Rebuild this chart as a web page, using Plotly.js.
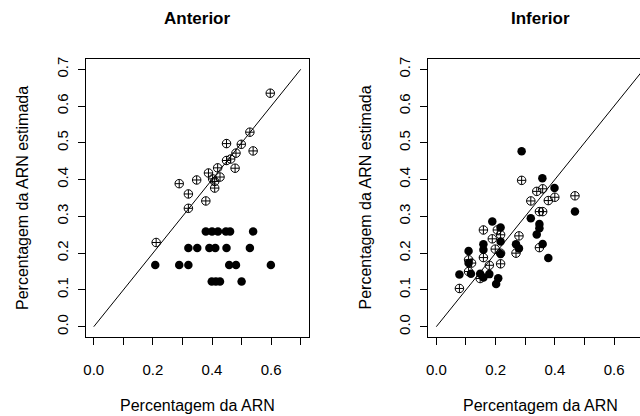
<!DOCTYPE html>
<html>
<head>
<meta charset="utf-8">
<script src="https://cdn.plot.ly/plotly-3.0.1.min.js"></script>
<style>
  html, body { margin: 0; padding: 0; overflow: hidden; background: #fff; }
  #chart { width: 660px; height: 416px; }
</style>
</head>
<body>
<div id="chart"></div>
<script>
// Anterior: open (circle-plus) estimates
const antOpenX = [0.597, 0.528, 0.449, 0.499, 0.539, 0.481, 0.463, 0.449, 0.478, 0.419, 0.388,
                  0.427, 0.402, 0.409, 0.409, 0.348, 0.289, 0.320, 0.379, 0.320, 0.211];
const antOpenY = [0.635, 0.529, 0.498, 0.496, 0.478, 0.472, 0.456, 0.452, 0.431, 0.432, 0.418,
                  0.407, 0.402, 0.395, 0.377, 0.399, 0.389, 0.361, 0.342, 0.322, 0.229];
// Anterior: filled estimates
const antFilledX = [0.379, 0.400, 0.420, 0.447, 0.461, 0.539,
                    0.320, 0.350, 0.391, 0.411, 0.449, 0.528,
                    0.208, 0.289, 0.320, 0.458, 0.481, 0.599,
                    0.399, 0.413, 0.427, 0.500];
const antFilledY = [0.259, 0.259, 0.259, 0.259, 0.259, 0.259,
                    0.214, 0.214, 0.214, 0.214, 0.214, 0.214,
                    0.168, 0.168, 0.168, 0.168, 0.168, 0.168,
                    0.123, 0.123, 0.123, 0.123];

// Inferior: open (circle-plus) estimates
const infOpenX = [0.288, 0.359, 0.339, 0.400, 0.378, 0.319, 0.468, 0.348, 0.359, 0.159, 0.206, 0.217, 0.189,
                  0.279, 0.199, 0.217, 0.217, 0.159, 0.179, 0.269, 0.348, 0.109, 0.119, 0.109, 0.148, 0.078];
const infOpenY = [0.398, 0.375, 0.368, 0.352, 0.343, 0.342, 0.356, 0.313, 0.313, 0.263, 0.263, 0.250, 0.239,
                  0.247, 0.211, 0.200, 0.171, 0.188, 0.167, 0.200, 0.215, 0.182, 0.173, 0.150, 0.131, 0.104];
// Inferior: filled estimates
const infFilledX = [0.288, 0.358, 0.399, 0.468, 0.319, 0.348, 0.348, 0.339, 0.359, 0.378, 0.189, 0.217, 0.217, 0.159,
                    0.159, 0.109, 0.109, 0.269, 0.279, 0.217, 0.078, 0.117, 0.148, 0.159, 0.179, 0.209, 0.202];
const infFilledY = [0.477, 0.404, 0.377, 0.313, 0.295, 0.279, 0.268, 0.251, 0.225, 0.187, 0.286, 0.270, 0.232, 0.224,
                    0.209, 0.206, 0.173, 0.224, 0.213, 0.198, 0.142, 0.144, 0.144, 0.134, 0.143, 0.132, 0.116];

// Identity reference line and axis ticks
const refLine = [0, 0.7];
const tickVals = [0, 0.1, 0.2, 0.3, 0.4, 0.5, 0.6, 0.7];
const xTickText = ['0.0', '', '0.2', '', '0.4', '', '0.6', ''];
const yTickText = ['0.0', '0.1', '0.2', '0.3', '0.4', '0.5', '0.6', '0.7'];

const panelTitles = ['Anterior', 'Inferior'];
const xTitle = 'Percentagem da ARN';
const yTitle = 'Percentagem da ARN estimada';

const W = 660, H = 416;
const FONT = 'Liberation Sans, Arial, Helvetica, sans-serif';
const MS = 8.5;

function pointsTrace(x, y, filled, axis) {
  return {
    type: 'scatter', mode: 'markers', x: x, y: y,
    xaxis: 'x' + axis, yaxis: 'y' + axis,
    marker: filled
      ? { symbol: 'circle', size: MS, color: '#000', line: { width: 0 } }
      : { symbol: 'circle-cross-open', size: MS, color: '#000', line: { width: 1, color: '#000' } },
    hoverinfo: 'x+y', showlegend: false
  };
}
function lineTrace(axis) {
  return {
    type: 'scatter', mode: 'lines', x: refLine, y: refLine,
    xaxis: 'x' + axis, yaxis: 'y' + axis,
    line: { color: '#000', width: 1 }, hoverinfo: 'skip', showlegend: false
  };
}

const traces = [
  lineTrace(''), pointsTrace(antFilledX, antFilledY, true, ''), pointsTrace(antOpenX, antOpenY, false, ''),
  lineTrace('2'), pointsTrace(infFilledX, infFilledY, true, '2'), pointsTrace(infOpenX, infOpenY, false, '2')
];

const yDom = [(H - 337) / H, (H - 59) / H];
const rng = [-0.028, 0.728];

function xAxis(left, right, anchor) {
  return {
    domain: [left / W, right / W], range: rng, anchor: anchor,
    tickmode: 'array', tickvals: tickVals, ticktext: xTickText,
    ticks: 'outside', ticklen: 7, tickwidth: 1, tickcolor: '#000',
    showline: true, mirror: true, linecolor: '#000', linewidth: 1,
    showgrid: false, zeroline: false, ticklabelstandoff: 12,
    tickfont: { family: FONT, size: 15, color: '#000' }
  };
}
function yAxis(anchor) {
  return {
    domain: yDom, range: rng, anchor: anchor,
    tickmode: 'array', tickvals: tickVals, ticktext: yTickText, tickangle: -90,
    ticks: 'outside', ticklen: 7, tickwidth: 1, tickcolor: '#000',
    showline: true, mirror: true, linecolor: '#000', linewidth: 1,
    showgrid: false, zeroline: false, ticklabelstandoff: 4,
    tickfont: { family: FONT, size: 15, color: '#000' }
  };
}

const panels = [
  { left: 85.5, right: 309 },
  { left: 428, right: 652 }
];

const annotations = [];
panels.forEach((p, i) => {
  const cx = (p.left + p.right) / 2 / W;
  annotations.push({
    text: '<b>' + panelTitles[i] + '</b>', xref: 'paper', yref: 'paper',
    x: cx, y: (H - 19) / H, xanchor: 'center', yanchor: 'middle', showarrow: false,
    font: { family: FONT, size: 17, color: '#000' }
  });
  annotations.push({
    text: xTitle, xref: 'paper', yref: 'paper',
    x: cx, y: (H - 405) / H, xanchor: 'center', yanchor: 'middle', showarrow: false,
    font: { family: FONT, size: 16, color: '#000' }
  });
  annotations.push({
    text: yTitle, xref: 'paper', yref: 'paper', textangle: -90,
    x: (p.left - 63.5) / W, y: (yDom[0] + yDom[1]) / 2, xanchor: 'center', yanchor: 'middle', showarrow: false,
    font: { family: FONT, size: 16, color: '#000' }
  });
});

const layout = {
  width: W, height: H,
  margin: { l: 0, r: 0, t: 0, b: 0 },
  paper_bgcolor: '#fff', plot_bgcolor: '#fff',
  showlegend: false,
  xaxis: xAxis(panels[0].left, panels[0].right, 'y'),
  yaxis: yAxis('x'),
  xaxis2: xAxis(panels[1].left, panels[1].right, 'y2'),
  yaxis2: yAxis('x2'),
  annotations: annotations
};

Plotly.newPlot('chart', traces, layout, { staticPlot: true, displayModeBar: false });
</script>
</body>
</html>
